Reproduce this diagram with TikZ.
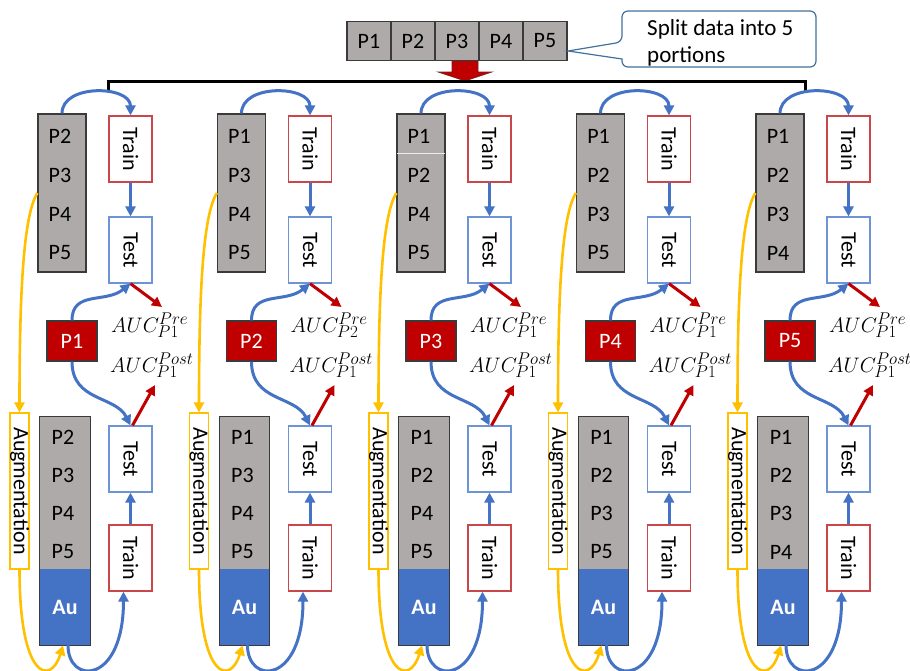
\documentclass[tikz,border=0pt]{standalone}
\usepackage{fix-cm}
\usepackage{graphicx}
\usepackage{fontspec}
\setmainfont{Carlito}
\newcommand\aucscr[1]{\mbox{\fontsize{17}{19}\selectfont$#1$}}
\usetikzlibrary{arrows.meta,calc}
\definecolor{grayfill}{HTML}{AEAAAA}
\definecolor{boxline}{HTML}{3A3A3A}
\definecolor{flowblue}{HTML}{4472C4}
\definecolor{darkred}{HTML}{C00000}
\definecolor{gold}{HTML}{FFC000}
\definecolor{trainred}{HTML}{C9474A}
\definecolor{testblue}{HTML}{6F94D6}
\definecolor{calloutline}{HTML}{41719C}
\begin{document}
\begin{tikzpicture}[x=1pt,y=-1pt,
  txt/.style={font=\fontsize{22}{26}\selectfont, inner sep=0pt},
  hbox/.style={txt, draw=boxline, fill=grayfill, line width=1.2pt, minimum width=44pt, minimum height=39pt},
  graybox/.style={draw=boxline, fill=grayfill, line width=1.2pt, minimum width=48pt, minimum height=158pt},
  trainbox/.style={txt, draw=trainred, fill=white, line width=1.2pt, minimum width=43pt, minimum height=66pt},
  testbox/.style={txt, draw=testblue, fill=white, line width=1.2pt, minimum width=43pt, minimum height=66pt},
  redbox/.style={txt, draw=boxline, fill=darkred, text=white, line width=1.2pt, minimum width=50pt, minimum height=40pt},
  augbox/.style={txt, draw=gold, fill=white, line width=1.2pt, minimum width=19pt, minimum height=156pt},
  lowgray/.style={fill=grayfill, inner sep=0pt, minimum width=50pt, minimum height=152pt},
  aubox/.style={txt, fill=flowblue, text=white, font=\fontsize{22}{26}\selectfont\bfseries, minimum width=50pt, minimum height=76pt},
  auclabel/.style={anchor=base west, inner sep=0pt, font=\fontsize{21}{25}\selectfont},
  blueflow/.style={draw=flowblue, line width=3pt, -{Triangle[length=10pt,width=10pt]}},
  redflow/.style={draw=darkred, line width=3pt, -{Triangle[length=10pt,width=10pt]}},
  goldflow/.style={draw=gold, line width=2.6pt, -{Triangle[length=10pt,width=10pt]}}
]
\useasboundingbox (0,0) rectangle (910,670);

% header boxes
\foreach \i in {1,...,5}{
  \node[hbox] (h\i) at (347+44*\i-22,41) {P\i};
}
% callout
\coordinate (ctip) at (568,51);
\draw[calloutline, line width=1.2pt, fill=white, rounded corners=6pt]
  (719,11) -- (622,11) -- (622,42) [sharp corners] -- (ctip) -- (622,59) [rounded corners=6pt] -- (622,67) -- (816,67) -- (816,11) -- cycle;
\node[anchor=north west, align=left, inner sep=0pt, font=\fontsize{23}{27}\selectfont] (callout) at (647,19) {Split data into 5\\portions};

% red down arrow
\filldraw[fill=darkred, draw=boxline!60!darkred, line width=0.6pt]
  (452,61) -- (478,61) -- (478,72) -- (492,72) -- (465,81) -- (438,72) -- (452,72) -- cycle;

% bracket
\coordinate (bl) at (108,92);
\coordinate (br) at (805,91);
\draw[black, line width=3pt] (bl) -- (108,81) -- (805,81) -- (br);

\foreach \k/\a/\b/\c/\d/\pre in {1/P2/P3/P4/P5/P1, 2/P1/P3/P4/P5/P2, 3/P1/P2/P4/P5/P1, 4/P1/P2/P3/P5/P1, 5/P1/P2/P3/P4/P1}{
  \pgfmathsetmacro{\X}{179.5*(\k-1)}
  % upper part
  \node[graybox] (g\k) at (62+\X,193) {};
  \node[txt] (g\k-1) at (60+\X,136) {\a};
  \node[txt] (g\k-2) at (60+\X,175) {\b};
  \node[txt] (g\k-3) at (60+\X,214) {\c};
  \node[txt] (g\k-4) at (60+\X,253) {\d};
  \node[trainbox] (tr\k) at (130.5+\X,149) {\rotatebox{-90}{Train}};
  \node[testbox] (te\k) at (130.5+\X,250) {\rotatebox{-90}{Test}};
  \node[redbox] (p\k) at (72+\X,341) {P\k};
  \node[auclabel] (apre\k) at (111+\X,332) {$AUC^{\aucscr{Pre}}_{\aucscr{\pre}}$};
  \node[auclabel] (apost\k) at (110+\X,372) {$AUC^{\aucscr{Post}}_{\aucscr{P1}}$};
  \coordinate (rpre\k) at (162+\X,307);
  \coordinate (rpost\k) at (155+\X,385);
  % lower part
  \node[augbox] (aug\k) at (19.5+\X,491) {\rotatebox{-90}{Augmentation}};
  \node[lowgray] (gb\k) at (65+\X,493) {};
  \node[aubox] (au\k) at (65+\X,607) {Au};
  \draw[boxline, line width=1.2pt] (gb\k.north west) rectangle (au\k.south east);
  \node[txt] (gb\k-1) at (63+\X,437) {\a};
  \node[txt] (gb\k-2) at (63+\X,475) {\b};
  \node[txt] (gb\k-3) at (63+\X,513) {\c};
  \node[txt] (gb\k-4) at (63+\X,552) {\d};
  \node[testbox] (tb\k) at (130.5+\X,459) {\rotatebox{-90}{Test}};
  \node[trainbox] (trb\k) at (130.5+\X,558) {\rotatebox{-90}{Train}};
  % connectors
  \draw[blueflow] (g\k.north) .. controls +(0,-30) and +(0,-30) .. (tr\k.north);
  \draw[blueflow] (tr\k.south) -- (te\k.north);
  \draw[blueflow] (p\k.north) .. controls +(0,-30) and +(-25,20) .. (te\k.south);
  \draw[redflow] (te\k.south) -- (rpre\k);
  \draw[blueflow] (p\k.south) .. controls +(0,40) and +(-15,-30) .. (tb\k.north);
  \draw[redflow] ($(tb\k.north)+(2,0)$) -- (rpost\k);
  \draw[blueflow] (trb\k.north) -- (tb\k.south);
  \draw[goldflow] (g\k.west) .. controls +(-14,22) and +(0,-120) .. (aug\k.north);
  \draw[goldflow] (aug\k.south) .. controls +(0,111) and +(-12,40) .. ($(au\k.south)+(-2,0)$);
  \draw[blueflow] ($(au\k.south)+(3,0)$) .. controls +(0,40) and +(0,93) .. ($(trb\k.south)+(-7,0)$);
}
% faint split line in third column
\draw[white!75!grayfill, line width=0.8pt] ($(g3.north west)+(1,40)$) -- ($(g3.north east)+(-1,40)$);
\end{tikzpicture}
\end{document}
